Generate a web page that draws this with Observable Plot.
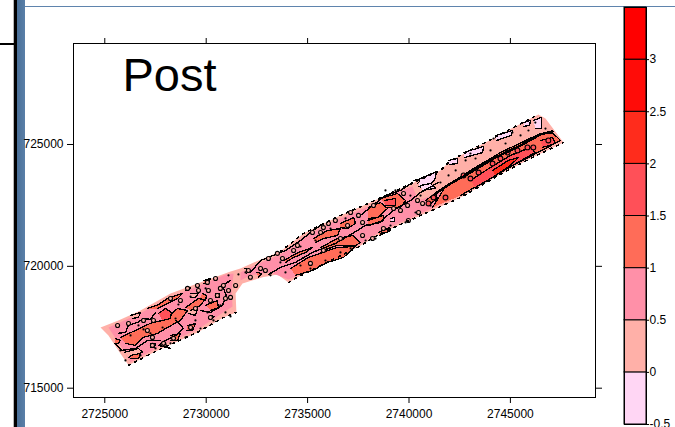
<!DOCTYPE html>
<html>
<head>
<meta charset="utf-8">
<script src="https://cdn.jsdelivr.net/npm/d3@7"></script>
<script src="https://cdn.jsdelivr.net/npm/@observablehq/plot@0.6"></script>
<style>
html,body{margin:0;padding:0;background:#fff;overflow:hidden}
#page{position:relative;width:675px;height:427px;overflow:hidden;font-family:"Liberation Sans",Arial,sans-serif}
#page svg{position:absolute;background:transparent;max-width:none}
.deco{position:absolute}
.frag{position:absolute;top:-11px;font-size:12px;line-height:12px;transform:translateX(-50%);color:#000}
</style>
</head>
<body>
<div id="page"></div>
<script>
const xTicks = [2725000, 2730000, 2735000, 2740000, 2745000];
const yTicks = [715000, 720000, 725000];
const topAxisLabels = ["0", "5000", "10000", "15000", "20000"];
const levels = [-0.5, 0, 0.5, 1, 1.5, 2, 2.5, 3, 3.5];
const levelLabels = ["-0.5", "0", "0.5", "1", "1.5", "2", "2.5", "3"];
const levelColors = ["#ffd6f4", "#ffb0a8", "#ff90a8", "#ff6c58", "#ff5058", "#ff2c1c", "#ff0c08", "#ff0000"];

const survey = [[
[2724790,717490],[2725670,717780],[2726760,718190],[2728240,718890],[2729570,719300],[2731200,719790],[2731690,719910],[2732580,720240],[2733660,720610],[2734800,721350],[2736620,722090],[2738100,722620],[2739930,723320],[2741550,723935],[2742050,724345],[2743680,725040],[2745150,725700],[2746380,726230],[2746730,726070],[2747620,725080],[2745990,724430],[2744660,723850],[2742540,722825],[2740570,722085],[2738590,721350],[2737460,720770],[2736130,720240],[2734500,719550],[2734060,719340],[2733520,719670],[2732780,719550],[2731790,719300],[2731450,718890],[2731490,718110],[2730850,717900],[2729570,717290],[2727600,716550],[2726170,715940],[2725670,716550],[2725180,717165],[2724790,717490]
]];
const speckledEdges = [
[[2726170,715940],[2727600,716550],[2729570,717290],[2730850,717900],[2731490,718110]],
[[2734060,719340],[2734500,719550],[2736130,720240],[2737460,720770],[2738590,721350],[2740570,722085],[2742540,722825],[2744660,723850],[2745990,724430],[2747620,725080]],
[[2733660,720610],[2734800,721350],[2736620,722090],[2738100,722620],[2739930,723320],[2741550,723935],[2742050,724345],[2743680,725040],[2745150,725700],[2746380,726230]]
];
const pinkZones = [
[[2725180,717490],[2726760,718070],[2728240,718760],[2729570,719170],[2730950,719670],[2731350,719710],[2731250,719010],[2731300,718350],[2729570,717410],[2727600,716670],[2726270,716060],[2725770,716755]],
[[2731690,719750],[2732580,720120],[2733660,720490],[2734800,721225],[2736620,721960],[2738100,722495],[2739330,723030],[2740170,723280],[2740470,722700],[2741800,723115],[2741950,722700],[2740570,722170],[2738590,721430],[2737460,720855],[2736130,720320],[2734500,719630],[2734060,719460],[2733170,719750],[2732180,719630],[2731690,719420]]
];
const salmonSpots = [
[[2726270,717985],[2726760,718110],[2726660,717905],[2726370,717865]],
[[2729120,718315],[2729570,718270],[2729470,717985],[2729120,718070]],
[[2729230,718890],[2729620,718890],[2729470,718725],[2729230,718725]],
[[2730210,717985],[2730410,717945],[2730310,717860],[2730110,717860]],
[[2730460,718890],[2730650,718890],[2730650,718725],[2730460,718725]],
[[2727250,716840],[2727500,716840],[2727450,716670],[2727250,716670]],
[[2725970,716470],[2726660,716630],[2726860,716470],[2726170,716260]],
[[2740220,723525],[2740660,723605],[2740420,723400]],
[[2731890,719910],[2732230,719830],[2731980,719710]]
];
const lilacSpots = [
[[2740570,723605],[2741360,723890],[2741260,723525],[2740760,723200],[2740470,723280]],
[[2741950,724345],[2742400,724425],[2742400,724220],[2742000,724180]],
[[2742690,724670],[2743680,724920],[2743630,724670],[2742740,724465]],
[[2744270,725370],[2745100,725575],[2745050,725370],[2744320,725165]],
[[2746130,725985],[2746530,726110],[2746530,725655],[2746230,725655]],
[[2745650,725900],[2745990,725985],[2745940,725780],[2745650,725740]],
[[2740570,723320],[2741060,723400],[2741310,723200],[2740660,723115]],
[[2739090,721965],[2739280,722005],[2739280,721840],[2739090,721840]]
];
const orangeZones = [
[[2725770,717085],[2726510,717370],[2727350,717700],[2727900,717780],[2728590,718270],[2729080,718190],[2728730,717780],[2728090,717490],[2727600,717250],[2726910,717085],[2726510,716755],[2726020,716840]],
[[2727100,718270],[2727650,718435],[2728090,718680],[2728830,718890],[2728590,718680],[2728090,718475],[2727600,718270]],
[[2728980,718310],[2729620,718680],[2729970,718680],[2729720,718395],[2729230,718190]],
[[2729820,718890],[2730010,718805],[2729970,718600],[2729670,718680]],
[[2729970,718395],[2730550,718600],[2730600,718310],[2730210,718190]],
[[2729870,719420],[2730210,719500],[2730110,719300],[2729870,719300]],
[[2728980,719135],[2729230,719135],[2729130,719010],[2728980,719010]],
[[2729080,717575],[2729470,717655],[2729330,717370],[2729030,717370]],
[[2728240,717165],[2728730,717250],[2728590,716960],[2728240,716960]],
[[2725520,717045],[2725770,716960],[2725670,716840],[2725480,716840]],
[[2726270,716345],[2726760,716430],[2726660,716220],[2726270,716220]],
[[2734160,719910],[2735040,720365],[2735740,720570],[2736470,720775],[2737360,720815],[2736770,720365],[2735980,720160],[2735240,719830],[2734400,719630]],
[[2733810,720240],[2734550,720570],[2735240,720775],[2734900,720570],[2734310,720365],[2733910,720160]],
[[2735640,720775],[2736470,721140],[2737220,721265],[2737610,720980],[2737360,720855],[2736470,720855],[2735740,720650]],
[[2735290,721140],[2735980,721470],[2736620,721550],[2736470,721265],[2735780,721140],[2735390,720980]],
[[2736620,721760],[2737270,722005],[2737360,721760],[2736970,721550],[2736620,721590]],
[[2738000,722415],[2738590,722620],[2738940,722375],[2738490,722005],[2738000,721965]],
[[2738590,722785],[2739430,722990],[2739830,722700],[2739580,722415],[2738940,722415]],
[[2737950,721880],[2738740,722085],[2738740,721880],[2738000,721675]],
[[2738490,721390],[2739040,721595],[2739090,721470],[2738540,721265]],
[[2740810,722700],[2741310,722990],[2741410,722785],[2741060,722580]],
[[2732480,719750],[2732730,719710],[2732580,719550]],
[[2741160,722415],[2741800,723280],[2743030,723935],[2744510,724670],[2745750,725165],[2746480,725450],[2747120,725450],[2747470,725165],[2745990,724510],[2744660,723935],[2742540,722905]]
];
const redZones = [
[[2727650,718070],[2728000,718270],[2728290,718110],[2728240,717860],[2727850,717780]],
[[2738790,722700],[2739330,722785],[2739330,722495],[2738840,722495]],
[[2743030,723525],[2744020,724060],[2745000,724550],[2745990,724880],[2746230,724670],[2745100,724140],[2744020,723605],[2743280,723240]],
[[2746480,725165],[2747080,725290],[2747220,725040],[2746580,724880]]
];
const deepRedZones = [
[[2744120,723935],[2744900,724345],[2745400,724465],[2745000,724140],[2744260,723730]]
];
const contourLines = [
[[2725670,717250],[2726020,717290],[2726170,717575],[2726610,717700],[2726910,717860],[2727250,717820],[2727500,718110]],
[[2725480,716840],[2725820,716550],[2726510,716630],[2727100,716960],[2727750,716960]],
[[2728490,717780],[2728880,717450],[2728490,717165],[2728000,716960],[2727650,716755],[2728240,716630]],
[[2729720,718190],[2730210,718110],[2730800,718395],[2730990,718805],[2730800,719215],[2731200,719420]],
[[2732180,719750],[2732680,720240],[2733170,720405],[2733910,720650],[2734650,721060],[2735140,721390],[2735640,721680]],
[[2733080,719670],[2733660,719955],[2734400,720160],[2735240,720570],[2736370,720940],[2737220,721350],[2737860,721680],[2738590,721800],[2739190,722290],[2740070,722700],[2740570,723030],[2741460,723445]],
[[2737610,722090],[2738200,722495],[2738840,722905],[2739580,723115],[2740170,723440]]
];
const ridgeLine = [
[[2741310,722990],[2742050,723400],[2743030,723850],[2744260,724465],[2745500,724960],[2746480,725410],[2747080,725535]]
];
const salmonIslands = [
[2725630,717575],[2726170,717655],[2726910,717780],[2727400,717780],[2727100,717370],[2727350,717085],[2727350,716755],[2727900,716840],[2728390,717045],[2729230,717490],[2729470,718270],[2730210,717900],[2730950,718680],[2731200,718725],[2730700,719095],[2730850,719215],[2730460,719500],[2730060,719340],[2729570,719215],[2729080,719095],[2728240,718680],[2728730,718600],[2729620,719010],[2730110,719010],[2730210,718600],[2730550,718805],[2731100,719010],[2731450,719215],
[2732080,719830],[2732680,719910],[2732920,719830],[2732180,719550],[2733070,720320],[2733510,720530],[2733760,720320],[2734500,720855],[2735240,721390],[2735640,721390],[2735780,721590],[2736030,721760],[2736370,721880],[2736970,721675],[2737120,722210],[2737510,722090],[2737710,721800],[2738250,722495],[2739240,722375],[2739580,722290],[2739930,722495],[2740420,722700],[2740670,722580],[2739730,722990],[2740470,722210],[2739970,721880],[2735780,720650],[2736620,721140],[2737710,721265],[2738200,721140],[2738740,721550],[2735140,720120],[2734310,720650]
];
const eastIslands = [
[2742690,723730],[2743030,723605],[2743430,723850],[2744120,724220],[2744510,724425],[2744860,724670],[2745350,724755],[2745840,724880],[2746130,724880],[2746870,725165],[2741800,722825],[2741210,722825],[2740960,722580]
];
const specks = [
[2726270,717165],[2726660,717575],[2727250,717250],[2727850,717490],[2728490,717860],[2726910,717410],[2728000,716800],[2725770,716550],[2726020,716140],[2726760,716345],[2727500,716630],[2728240,716840],[2728980,717085],[2729720,717450],[2730360,717780],[2730950,718110],[2731200,717945],[2729470,717780],[2730060,718110],[2730700,718395],[2729230,718760],[2728630,718435],[2729970,719095],[2731100,719630],[2731590,719670],[2731940,719750],
[2733170,719630],[2733910,719750],[2734650,720035],[2735140,719910],[2735880,720240],[2736620,720570],[2737120,720735],[2737860,721060],[2738350,721140],[2739090,721675],[2739830,721800],[2740320,722210],[2741060,722495],[2736130,721550],[2736870,721965],[2738200,721965],[2739330,723115],[2738840,723115],[2740570,722905],[2741550,723440],[2740070,722905],[2734650,720815],[2735390,721060],[2733660,720160],
[2741950,723730],[2742300,723935],[2742790,724345],[2743280,724425],[2744020,724755],[2744760,725040],[2745500,725370],[2745890,725575],[2743030,724630],[2744170,725245],[2745100,725490],[2746230,725900],[2746730,725655]
];

const rows = rings => rings.flatMap((r, i) => r.map(([e, n]) => ({ring: i, e, n})));
const zone = (rings, color) => Plot.line(rows(rings), {
  x: "e", y: "n", z: "ring", fill: color, stroke: "#000", strokeWidth: 1.3, shapeRendering: "crispEdges"
});
const lines = (rings, w) => Plot.line(rows(rings), {
  x: "e", y: "n", z: "ring", stroke: "#000", strokeWidth: w, shapeRendering: "crispEdges"
});
const islands = (pts, color, r) => Plot.dot(pts, {
  x: d => d[0], y: d => d[1], r, fill: color, stroke: "#000", strokeWidth: 1.1
});

const font = '"Liberation Sans",Arial,sans-serif';

const main = Plot.plot({
  width: 675, height: 427,
  marginLeft: 73, marginRight: 80, marginTop: 43, marginBottom: 30,
  style: {background: "transparent", fontFamily: font, fontSize: "12px", color: "#000"},
  x: {domain: [2723457, 2749196]},
  y: {domain: [714618, 729144]},
  marks: [
    Plot.line(rows(survey), {x: "e", y: "n", z: "ring", fill: levelColors[1], stroke: "none"}),
    Plot.line(rows(pinkZones), {x: "e", y: "n", z: "ring", fill: levelColors[2], stroke: "none"}),
    zone(salmonSpots, levelColors[1]),
    zone(orangeZones, levelColors[3]),
    zone(redZones, levelColors[4]),
    zone(deepRedZones, levelColors[5]),
    zone(lilacSpots, levelColors[0]),
    lines(contourLines, 1.4),
    islands(salmonIslands, levelColors[1], 2),
    islands(eastIslands, levelColors[4], 2.4),
    lines(ridgeLine, 2.4),
    Plot.dot(specks, {x: d => d[0], y: d => d[1], r: 1.1, fill: "#000"}),
    Plot.line(rows(speckledEdges), {x: "e", y: "n", z: "ring", stroke: "#000", strokeWidth: 1.6, strokeDasharray: "2 5", shapeRendering: "crispEdges"}),
    Plot.frame({stroke: "#000", strokeWidth: 1}),
    Plot.axisX({anchor: "bottom", ticks: xTicks, tickFormat: d => String(d), tickSize: 6, tickPadding: 6, label: null, fontSize: 12}),
    Plot.axisX({anchor: "top", ticks: xTicks, tickFormat: () => "", tickSize: 6, label: null}),
    Plot.axisY({anchor: "left", ticks: yTicks, tickFormat: d => String(d), tickSize: 6, tickPadding: 4, label: null, fontSize: 12}),
    Plot.axisY({anchor: "right", ticks: yTicks, tickFormat: () => "", tickSize: 6, label: null}),
    Plot.text(["Post"], {x: () => 2725870, y: () => 727210, textAnchor: "start", lineAnchor: "bottom", fontSize: 47, fontFamily: "Liberation Sans, Arial, sans-serif", fill: "#000"})
  ]
});
main.style.left = "0px"; main.style.top = "0px";

const bands = levelColors.map((c, i) => ({c, lo: levels[i], hi: levels[i + 1]}));
const bar = Plot.plot({
  width: 75, height: 427,
  marginLeft: 24, marginRight: 29, marginTop: 7, marginBottom: 3,
  style: {background: "transparent", fontFamily: font, fontSize: "12px", color: "#000"},
  x: {domain: [0, 1], axis: null},
  y: {domain: [-0.5, 3.5], axis: null},
  marks: [
    Plot.rect(bands, {x1: () => 0, x2: () => 1, y1: "lo", y2: "hi", fill: "c", stroke: "#000", strokeWidth: 1}),
    Plot.frame({stroke: "#000", strokeWidth: 1}),
    Plot.axisY({
      anchor: "right", ticks: levels.slice(0, 8), tickSize: 2, tickPadding: 1, label: null, fontSize: 12,
      tickFormat: d => levelLabels[levels.indexOf(d)]
    })
  ]
});
bar.style.left = "600px"; bar.style.top = "0px";

const page = document.getElementById("page");
const deco = (l, t, w, h, bg) => {
  const d = document.createElement("div");
  d.className = "deco";
  d.style.cssText = `left:${l}px;top:${t}px;width:${w}px;height:${h}px;background:${bg}`;
  page.appendChild(d);
};
deco(25, 6, 650, 1, "#5f84ad");
deco(13, 0, 1, 427, "#b8b8b8");
deco(14, 0, 3, 427, "#000");
deco(17, 0, 8, 427, "linear-gradient(90deg,#4a7098,#5a7fa8)");
deco(0, 43, 15, 2, "#000");
topAxisLabels.forEach((t, i) => {
  const s = document.createElement("span");
  s.className = "frag";
  s.textContent = t;
  s.style.left = [138, 255, 372, 487, 600][i] + "px";
  page.appendChild(s);
});
page.appendChild(main);
page.appendChild(bar);
</script>
</body>
</html>
